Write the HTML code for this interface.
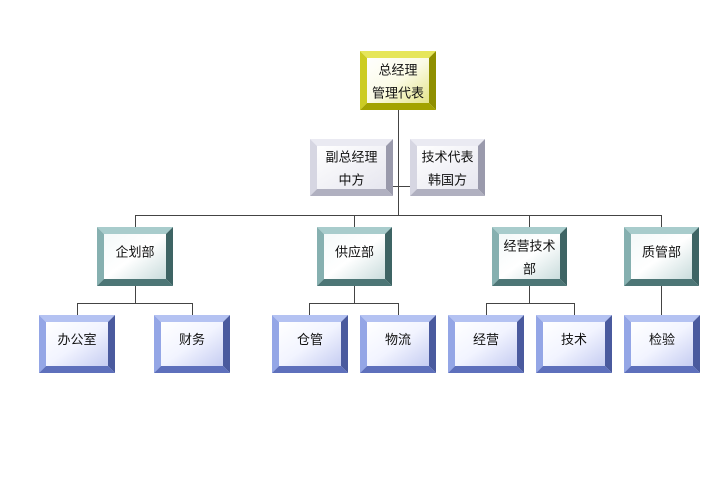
<!DOCTYPE html>
<html><head><meta charset="utf-8"><style>
html,body{margin:0;padding:0;background:#fff;}
svg{display:block;}
text{font-family:"Liberation Sans","Noto Sans CJK SC",sans-serif;font-size:13px;fill:#111;}
</style></head><body>
<svg id="s" width="720" height="492" viewBox="0 0 720 492" xmlns="http://www.w3.org/2000/svg">
<defs>
<linearGradient id="gy" x1="0" y1="0" x2="1" y2="1"><stop offset="0" stop-color="#ffffff"/><stop offset="0.5" stop-color="#fbfbe6"/><stop offset="1" stop-color="#e4e48a"/></linearGradient>
<linearGradient id="gg" x1="0" y1="0" x2="1" y2="1"><stop offset="0" stop-color="#ffffff"/><stop offset="1" stop-color="#e6e6ef"/></linearGradient>
<linearGradient id="gt" x1="0" y1="0" x2="1" y2="1"><stop offset="0" stop-color="#f4f9f9"/><stop offset="0.5" stop-color="#ffffff"/><stop offset="1" stop-color="#c9dcdc"/></linearGradient>
<linearGradient id="gb" x1="0" y1="0" x2="1" y2="1"><stop offset="0" stop-color="#ffffff"/><stop offset="0.5" stop-color="#f2f4ff"/><stop offset="1" stop-color="#c6cdf2"/></linearGradient>
</defs>
<g stroke="#444" stroke-width="1" fill="none">
<path d="M398.5 110V215.5M393 186.5H410"/>
<path d="M135.5 227V215.5H661.5V227M354.5 215.5V227M529.5 215.5V227"/>
<path d="M135.5 286V303.5M77.5 315V303.5H192.5V315"/>
<path d="M354.5 286V303.5M309.5 315V303.5H398.5V315"/>
<path d="M529.5 286V303.5M486.5 315V303.5H574.5V315"/>
<path d="M661.5 286V315"/>
</g>
<g id="boxes"></g>
</svg>
<script>
var P={
y:{t:"#e6e65a",l:"#cccc22",r:"#8f8f00",b:"#a3a300",f:"url(#gy)"},
g:{t:"#eaeaf2",l:"#d6d6e2",r:"#9a9aac",b:"#b0b0c0",f:"url(#gg)"},
t:{t:"#a8cccc",l:"#86b0b0",r:"#3e6464",b:"#4d7676",f:"url(#gt)"},
b:{t:"#b4c2f2",l:"#94a6e6",r:"#4a5a9e",b:"#5e70bc",f:"url(#gb)"}};
var B=[
["y",360,51,76,59,["总经理","管理代表"]],
["g",310,139,83,57,["副总经理","中方"]],
["g",410,139,75,57,["技术代表","韩国方"]],
["t",97,227,76,59,["企划部"]],
["t",317,227,75,59,["供应部"]],
["t",492,227,75,59,["经营技术","部"]],
["t",624,227,75,59,["质管部"]],
["b",39,315,76,58,["办公室"]],
["b",154,315,76,58,["财务"]],
["b",272,315,76,58,["仓管"]],
["b",360,315,76,58,["物流"]],
["b",448,315,76,58,["经营"]],
["b",536,315,76,58,["技术"]],
["b",624,315,76,58,["检验"]]];
var h="",d=7;
B.forEach(function(a){var c=P[a[0]],x=a[1],y=a[2],w=a[3],H=a[4],X=x+w,Y=y+H;
h+='<polygon points="'+x+','+y+' '+X+','+y+' '+(X-d)+','+(y+d)+' '+(x+d)+','+(y+d)+'" fill="'+c.t+'"/>';
h+='<polygon points="'+x+','+y+' '+(x+d)+','+(y+d)+' '+(x+d)+','+(Y-d)+' '+x+','+Y+'" fill="'+c.l+'"/>';
h+='<polygon points="'+X+','+y+' '+X+','+Y+' '+(X-d)+','+(Y-d)+' '+(X-d)+','+(y+d)+'" fill="'+c.r+'"/>';
h+='<polygon points="'+x+','+Y+' '+(x+d)+','+(Y-d)+' '+(X-d)+','+(Y-d)+' '+X+','+Y+'" fill="'+c.b+'"/>';
h+='<rect x="'+(x+d)+'" y="'+(y+d)+'" width="'+(w-2*d)+'" height="'+(H-2*d)+'" fill="'+c.f+'"/>';
var cx=x+w/2,cy=y+H/2,L=a[5];
if(L.length==1)h+='<text x="'+cx+'" y="'+(cy)+'" text-anchor="middle">'+L[0]+'</text>';
else{h+='<text x="'+cx+'" y="'+(cy-6)+'" text-anchor="middle">'+L[0]+'</text>';h+='<text x="'+cx+'" y="'+(cy+17)+'" text-anchor="middle">'+L[1]+'</text>';}
});
document.getElementById("boxes").innerHTML=h;
</script>
</body></html>
